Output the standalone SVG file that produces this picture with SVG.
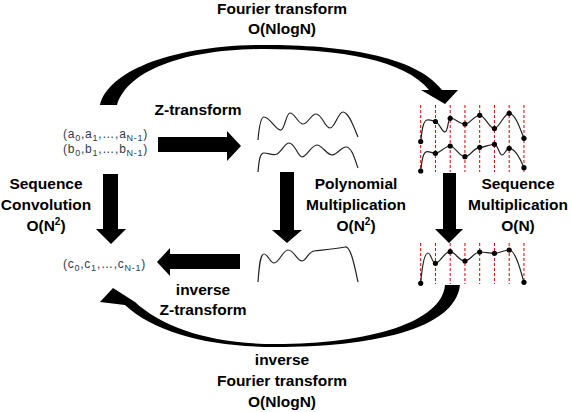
<svg xmlns="http://www.w3.org/2000/svg" width="571" height="412" viewBox="0 0 571 412">
<defs>
<style>
.lbl{font-family:"Liberation Sans",Arial,sans-serif;font-weight:bold;font-size:15.5px;fill:#000;text-anchor:middle}
.sup{font-size:10px}
.seq{font-family:"Liberation Sans",Arial,sans-serif;font-size:12px;fill:#2f3a4f;letter-spacing:0.75px}
.sub{font-size:9px}
.wave{fill:none;stroke:#222;stroke-width:1.2}
.grid{stroke:#e00000;stroke-width:1;stroke-dasharray:3 2}
.dot{fill:#000}
.arr{fill:#000}
</style>
</defs>
<rect width="571" height="412" fill="#fff"/>

<g id="connectors">
  <path class="arr" d="M100,105 C108,72 170,45 265,45 C340,45 415,55 442,90 L458,90 L445,104 L421,90 L429,90 C405,60 340,49 265,49 C185,49 128,70 117,105 Z"/>
  <path class="arr" d="M445,285 C442,322 370,344 275,344 C210,344 162,327 135,302 L113,288 L100,302 L125,305 C155,333 210,347 275,347 C370,347 455,330 460,285 Z"/>
  <polygon class="arr" points="158,137 227,137 227,131 241,146 227,161 227,152 158,152"/>
  <polygon class="arr" points="103,174 118,174 118,229 126,229 111,244 96,229 103,229"/>
  <polygon class="arr" points="280,172 294,172 294,230 302,230 287,243 272,230 280,230"/>
  <polygon class="arr" points="443,173 456,173 456,229 463,229 449,243 435,229 443,229"/>
  <polygon class="arr" points="240,254 170,254 170,248 157,262 170,276 170,269 240,269"/>
</g>

<g id="labels">
  <text class="lbl" x="282" y="13.5">Fourier transform</text>
  <text class="lbl" x="282" y="33.5">O(NlogN)</text>
  <text class="lbl" x="198" y="115">Z-transform</text>
  <text class="lbl" x="46" y="189">Sequence</text>
  <text class="lbl" x="46" y="210">Convolution</text>
  <text class="lbl" x="46" y="231">O(N<tspan class="sup" dy="-6">2</tspan><tspan dy="6">)</tspan></text>
  <text class="lbl" x="356" y="189">Polynomial</text>
  <text class="lbl" x="356" y="210">Multiplication</text>
  <text class="lbl" x="356" y="231">O(N<tspan class="sup" dy="-6">2</tspan><tspan dy="6">)</tspan></text>
  <text class="lbl" x="518" y="189">Sequence</text>
  <text class="lbl" x="518" y="210">Multiplication</text>
  <text class="lbl" x="518" y="231">O(N)</text>
  <text class="lbl" x="203" y="295">inverse</text>
  <text class="lbl" x="203" y="315">Z-transform</text>
  <text class="lbl" x="282" y="365">inverse</text>
  <text class="lbl" x="282" y="386">Fourier transform</text>
  <text class="lbl" x="282" y="407">O(NlogN)</text>
</g>

<g id="seq-ab">
  <text class="seq" x="63" y="138">(a<tspan class="sub" dy="3">0</tspan><tspan dy="-3">,a</tspan><tspan class="sub" dy="3">1</tspan><tspan dy="-3">,…,a</tspan><tspan class="sub" dy="3">N-1</tspan><tspan dy="-3">)</tspan></text>
  <text class="seq" x="63" y="153">(b<tspan class="sub" dy="3">0</tspan><tspan dy="-3">,b</tspan><tspan class="sub" dy="3">1</tspan><tspan dy="-3">,…,b</tspan><tspan class="sub" dy="3">N-1</tspan><tspan dy="-3">)</tspan></text>
</g>

<g id="seq-c">
  <text class="seq" x="63" y="268">(c<tspan class="sub" dy="3">0</tspan><tspan dy="-3">,c</tspan><tspan class="sub" dy="3">1</tspan><tspan dy="-3">,…,c</tspan><tspan class="sub" dy="3">N-1</tspan><tspan dy="-3">)</tspan></text>
</g>

<g id="poly-ab">
  <path class="wave" d="M258,140 C259,128 261,117 264,117 C270,117 276,131 281,130 C285,129 286,113 290,113 C295,113 298,124 303,124 C308,124 311,114 316,114 C322,114 325,128 330,128 C335,128 338,112 343,112 C349,112 354,128 358,137"/>
  <path class="wave" d="M258,172 C259,160 260,153 264,153 C269,153 272,156 277,154 C282,151 285,143 289,143 C295,143 298,157 302,157 C307,157 311,145 317,145 C322,145 327,155 332,155 C337,155 341,147 346,147 C352,147 355,160 358,168"/>
</g>

<g id="poly-c">
  <path class="wave" d="M258,282 C259,268 260,254 264,254 C268,254 270,263 274,263 C279,263 283,250 288,250 C294,250 297,261 302,261 C306,261 308,252 314,251 C322,250 335,249 345,247 C351,246 355,268 358,282"/>
</g>

<g id="samples-ab">
  <g class="grid">
    <line x1="420.7" y1="105" x2="420.7" y2="172"/>
    <line x1="435.45" y1="105" x2="435.45" y2="172"/>
    <line x1="450.2" y1="105" x2="450.2" y2="172"/>
    <line x1="464.95" y1="105" x2="464.95" y2="172"/>
    <line x1="479.7" y1="105" x2="479.7" y2="172"/>
    <line x1="494.45" y1="105" x2="494.45" y2="172"/>
    <line x1="509.2" y1="105" x2="509.2" y2="172"/>
    <line x1="523.95" y1="105" x2="523.95" y2="172"/>
  </g>
  <path class="wave" d="M420.7,141.5 C422,130 423,121 427,120 C430,119.5 433,121 435.45,121.5 C439,122.5 442,132 445,132 C448,132 448,119 450.2,118.3 C454,117 459,124 464.95,124 C470,124 474,115.3 479.7,115.3 C485,115.3 489,128.5 494.45,128.5 C499,128.5 504,113.3 509.2,113.3 C515,113.3 520,128 523.95,138.3"/>
  <path class="wave" d="M420.7,171 C422,160 423,152 427,151.7 C430,151.5 432,153.3 435.45,153.3 C440,153.3 445,146 450.2,146 C455,146 459,156.7 464.95,156.7 C470,156.7 474,147.3 479.7,147.3 C485,147.3 489,144.3 494.45,144.3 C498,144.3 499,155 502,155 C505,155 506,148.3 509.2,148.3 C515,148.3 520,158 523.95,167.7"/>
  <g class="dot">
    <circle cx="420.7" cy="141.5" r="2.6"/><circle cx="435.45" cy="121.5" r="2.6"/><circle cx="450.2" cy="118.3" r="2.6"/><circle cx="464.95" cy="124" r="2.6"/>
    <circle cx="479.7" cy="115.3" r="2.6"/><circle cx="494.45" cy="128.5" r="2.6"/><circle cx="509.2" cy="113.3" r="2.6"/><circle cx="523.95" cy="138.3" r="2.6"/>
    <circle cx="420.7" cy="171" r="2.6"/><circle cx="435.45" cy="153.3" r="2.6"/><circle cx="450.2" cy="146" r="2.6"/><circle cx="464.95" cy="156.7" r="2.6"/>
    <circle cx="479.7" cy="147.3" r="2.6"/><circle cx="494.45" cy="144.3" r="2.6"/><circle cx="509.2" cy="148.3" r="2.6"/><circle cx="523.95" cy="167.7" r="2.6"/>
  </g>
</g>

<g id="samples-c">
  <g class="grid">
    <line x1="420.7" y1="243" x2="420.7" y2="284"/>
    <line x1="435.45" y1="243" x2="435.45" y2="284"/>
    <line x1="450.2" y1="243" x2="450.2" y2="284"/>
    <line x1="464.95" y1="243" x2="464.95" y2="284"/>
    <line x1="479.7" y1="243" x2="479.7" y2="284"/>
    <line x1="494.45" y1="243" x2="494.45" y2="284"/>
    <line x1="509.2" y1="243" x2="509.2" y2="284"/>
    <line x1="523.95" y1="243" x2="523.95" y2="284"/>
  </g>
  <path class="wave" d="M420.7,283.3 C422,268 424,253 428,253 C431,253 432,263.3 435.45,263.3 C440,263.3 444,251.7 450.2,251.7 C455,251.7 459,261 464.95,261 C470,261 474,252 479.7,252 C485,252 489,253.3 494.45,253.3 C499,253.3 504,250 509.2,250 C515,250 520,268 523.95,282.3"/>
  <g class="dot">
    <circle cx="420.7" cy="283.3" r="2.6"/><circle cx="435.45" cy="263.3" r="2.6"/><circle cx="450.2" cy="251.7" r="2.6"/><circle cx="464.95" cy="261" r="2.6"/>
    <circle cx="479.7" cy="252" r="2.6"/><circle cx="494.45" cy="253.3" r="2.6"/><circle cx="509.2" cy="250" r="2.6"/><circle cx="523.95" cy="282.3" r="2.6"/>
  </g>
</g>
</svg>
